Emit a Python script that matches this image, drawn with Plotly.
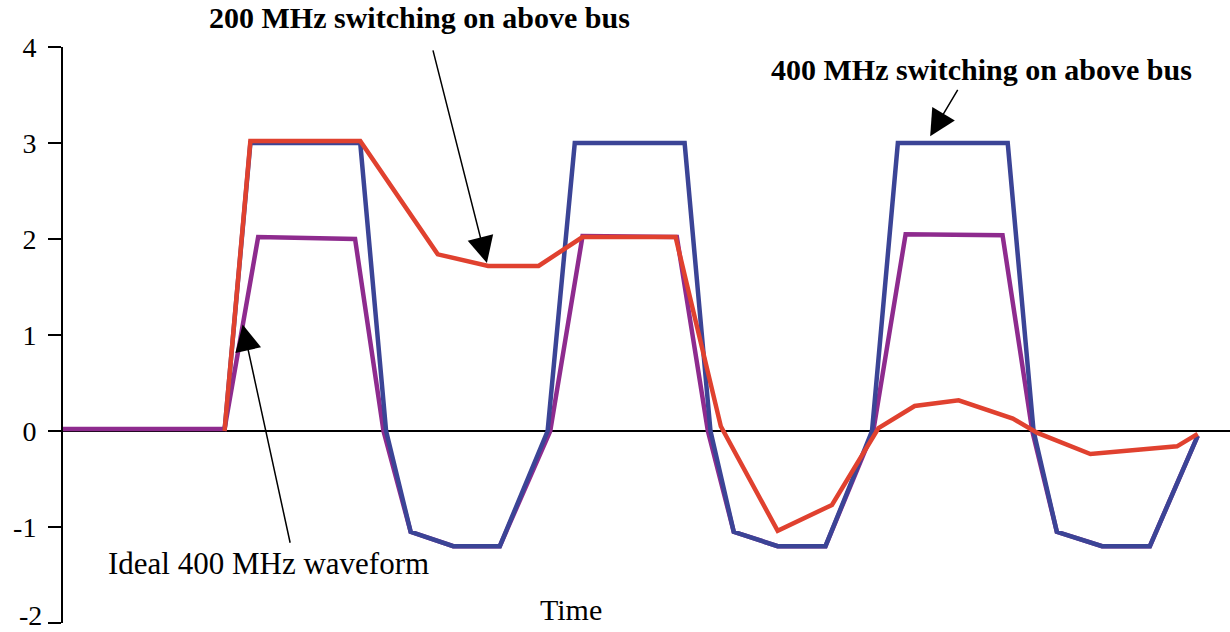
import plotly.graph_objects as go

# Time in ns (400 MHz period = 2.5 ns), values in volts
blue_t = [1.25, 1.45, 2.30, 2.50, 2.69, 3.02, 3.38, 3.75, 3.96, 4.81, 5.01, 5.19, 5.53, 5.90, 6.26, 6.46, 7.31, 7.51, 7.69, 8.04, 8.41, 8.78]
blue_v = [0, 3.0, 3.0, 0, -1.05, -1.2, -1.2, 0, 3.0, 3.0, 0, -1.05, -1.2, -1.2, 0, 3.0, 3.0, 0, -1.05, -1.2, -1.2, -0.05]

purple_t = [0, 1.25, 1.51, 2.26, 2.48, 2.69, 3.02, 3.38, 3.77, 4.02, 4.75, 4.99, 5.19, 5.53, 5.90, 6.27, 6.52, 7.27, 7.50, 7.69, 8.04, 8.41, 8.78]
purple_v = [0.02, 0.02, 2.02, 2.0, 0, -1.05, -1.2, -1.2, 0, 2.03, 2.02, 0, -1.05, -1.2, -1.2, 0, 2.05, 2.04, 0, -1.05, -1.2, -1.2, -0.05]

red_t = [1.25, 1.45, 2.30, 2.90, 3.29, 3.68, 4.02, 4.74, 5.09, 5.53, 5.95, 6.31, 6.59, 6.93, 7.35, 7.54, 7.95, 8.62, 8.78]
red_v = [0, 3.02, 3.02, 1.84, 1.72, 1.72, 2.02, 2.02, 0.05, -1.04, -0.77, 0.03, 0.26, 0.32, 0.13, -0.02, -0.24, -0.16, -0.03]

y_ticks = [-2, -1, 0, 1, 2, 3, 4]
y_tick_labels = ["", "-1", "0", "1", "2", "3", "4"]
bottom_tick_label = "-2"   # drawn separately so it stays inside the page

BLUE = "#3b4496"
RED = "#e0412f"
PURPLE = "#8e2b8e"
FONT = "Liberation Serif"

fig = go.Figure()
fig.add_trace(go.Scatter(x=purple_t, y=purple_v, mode="lines",
                         line=dict(color=PURPLE, width=4.5), name="Ideal 400 MHz waveform"))
fig.add_trace(go.Scatter(x=blue_t, y=blue_v, mode="lines",
                         line=dict(color=BLUE, width=4.5), name="400 MHz switching on above bus"))
fig.add_trace(go.Scatter(x=red_t, y=red_v, mode="lines",
                         line=dict(color=RED, width=4.5), name="200 MHz switching on above bus"))

# arrows (tip at x,y; tail at ax,ay in data units)
arrows = [
    dict(x=3.28, y=1.75, ax=2.86, ay=3.98),
    dict(x=6.71, y=3.07, ax=6.93, ay=3.57),
    dict(x=1.39, y=1.11, ax=1.76, ay=-1.18),
]
for a in arrows:
    fig.add_annotation(x=a["x"], y=a["y"], ax=a["ax"], ay=a["ay"], xref="x", yref="y",
                       axref="x", ayref="y", text="", showarrow=True,
                       arrowhead=2, arrowsize=3.5, arrowwidth=1.5, arrowcolor="black")

labels = [
    dict(text="<b>200 MHz switching on above bus</b>", x=2.76, y=1.052, yref="paper", size=30),
    dict(text="<b>400 MHz switching on above bus</b>", x=7.11, y=3.77, yref="y", size=30),
    dict(text="Ideal 400 MHz waveform", x=1.59, y=-1.385, yref="y", size=31),
    dict(text="Time", x=3.93, y=-1.86, yref="y", size=30),
]
for l in labels:
    fig.add_annotation(x=l["x"], y=l["y"], xref="x", yref=l["yref"], text=l["text"],
                       showarrow=False, font=dict(family=FONT, size=l["size"], color="black"),
                       xanchor="center", yanchor="middle")

fig.add_annotation(x=-0.0171, y=0.0, xref="paper", yref="paper", text=bottom_tick_label,
                   showarrow=False, font=dict(family=FONT, size=28, color="black"),
                   xanchor="right", yanchor="bottom", yshift=-9, borderpad=0)

fig.update_layout(
    width=1230, height=632,
    margin=dict(l=63, r=0, t=47, b=9, autoexpand=False),
    paper_bgcolor="white", plot_bgcolor="white",
    showlegend=False,
    xaxis=dict(range=[0, 9.03], showline=False, showticklabels=False, ticks="",
               showgrid=False, zeroline=False, automargin=False),
    yaxis=dict(range=[-2, 4], tickvals=y_ticks, ticktext=y_tick_labels,
               showline=True, linecolor="black", linewidth=2,
               ticks="outside", ticklen=13, tickwidth=1.5, tickcolor="black",
               ticklabelstandoff=6, ticklabeloverflow="allow", automargin=False,
               showgrid=False, zeroline=True, zerolinecolor="black", zerolinewidth=2,
               tickfont=dict(family=FONT, size=28, color="black")),
)

fig.write_html("out.html", config={"displayModeBar": False},
               post_script="document.body.style.margin='0px';")
